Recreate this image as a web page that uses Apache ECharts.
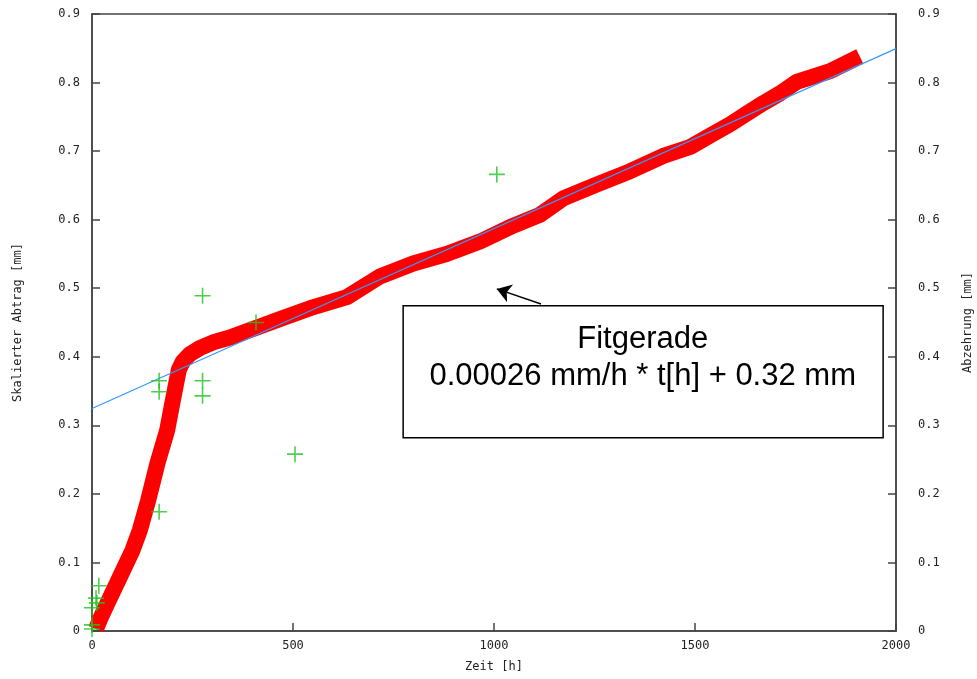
<!DOCTYPE html>
<html>
<head>
<meta charset="utf-8">
<script src="https://cdn.jsdelivr.net/npm/echarts@6/dist/echarts.min.js"></script>
<style>
  html, body { margin: 0; padding: 0; background: #fff; overflow: hidden; }
  #chart { width: 977px; height: 679px; }
</style>
</head>
<body>
<div id="chart"></div>
<script>
// Axis ticks
const xTicks = [0, 500, 1000, 1500, 2000];
const xTickLabels = ['0', '500', '1000', '1500', '2000'];
const yTickValues = [0, 0.1, 0.2, 0.3, 0.4, 0.5, 0.6, 0.7, 0.8, 0.9];
const yTickLabels = ['0', '0.1', '0.2', '0.3', '0.4', '0.5', '0.6', '0.7', '0.8', '0.9'];

// Scaled wear curve (Zeit [h] -> Skalierter Abtrag [mm])
const abtragX = [10, 22, 42, 72, 101, 119, 140, 163, 187, 203, 216, 226, 244, 269, 306, 343, 468, 551, 634, 716, 799, 882, 965, 1047, 1114, 1172, 1255, 1338, 1421, 1488, 1546, 1587, 1629, 1670, 1711, 1753, 1836, 1910];
const abtragY = [0.003, 0.020, 0.045, 0.082, 0.118, 0.147, 0.191, 0.245, 0.293, 0.342, 0.381, 0.393, 0.404, 0.413, 0.422, 0.428, 0.455, 0.4725, 0.487, 0.517, 0.536, 0.550, 0.568, 0.591, 0.607, 0.631, 0.651, 0.6705, 0.693, 0.706, 0.7255, 0.739, 0.7547, 0.770, 0.784, 0.801, 0.8166, 0.838];

// Measured Abzehrung points
const messX = [17, 10, 12, 0, 0, 0, 167, 167, 167, 275, 275, 275, 408, 505, 1007];
const messY = [0.066, 0.048, 0.041, 0.034, 0.009, 0.003, 0.365, 0.349, 0.174, 0.489, 0.365, 0.343, 0.450, 0.258, 0.666];

// Linear fit
const fitSlope = 0.0002625;
const fitIntercept = 0.3245;
const fitRange = [0, 2000];

// Annotation box and arrow (data coordinates)
const boxCorners = [[774, 0.4745], [1968, 0.2818]];
const boxTextAnchor = [1370, 0.399];
const arrowFrom = [1117, 0.477];
const arrowTo = [1007, 0.499];

const monoFont = 'DejaVu Sans Mono';
const axisColor = '#444';

const abtragData = abtragX.map((x, i) => [x, abtragY[i]]);
const messData = messX.map((x, i) => [x, messY[i]]);
const fitData = fitRange.map(t => [t, fitSlope * t + fitIntercept]);

function yLabel(v) {
  const i = yTickValues.findIndex(t => Math.abs(t - v) < 1e-9);
  return i >= 0 ? yTickLabels[i] : '';
}
function xLabel(v) {
  const i = xTicks.indexOf(v);
  return i >= 0 ? xTickLabels[i] : '';
}

const chart = echarts.init(document.getElementById('chart'), null, { renderer: 'canvas' });

const yAxisBase = {
  type: 'value',
  min: 0,
  max: 0.9,
  interval: 0.1,
  nameLocation: 'middle',
  nameRotate: 90,
  nameTextStyle: { fontFamily: monoFont, fontSize: 12, color: '#222' },
  axisLine: { show: true, lineStyle: { color: axisColor, width: 1.5 } },
  axisTick: { show: true, inside: true, length: 8, lineStyle: { color: axisColor, width: 1.5 } },
  splitLine: { show: false },
  axisLabel: { fontFamily: monoFont, fontSize: 12, color: '#222', formatter: yLabel }
};

chart.setOption({
  animation: false,
  backgroundColor: '#fff',
  grid: {
    left: 92, right: 81, top: 14, bottom: 48,
    outerBoundsMode: 'none',
    containLabel: false,
    show: true, borderColor: axisColor, borderWidth: 1.5, backgroundColor: 'transparent'
  },
  xAxis: {
    type: 'value',
    min: xTicks[0],
    max: xTicks[xTicks.length - 1],
    interval: xTicks[1] - xTicks[0],
    name: 'Zeit [h]',
    nameLocation: 'middle',
    nameGap: 30,
    nameTextStyle: { fontFamily: monoFont, fontSize: 12, color: '#222' },
    axisLine: { show: true, lineStyle: { color: axisColor, width: 1.5 } },
    axisTick: { show: true, inside: true, length: 8, lineStyle: { color: axisColor, width: 1.5 } },
    splitLine: { show: false },
    axisLabel: { fontFamily: monoFont, fontSize: 12, color: '#222', margin: 9, formatter: xLabel }
  },
  yAxis: [
    Object.assign({}, yAxisBase, {
      position: 'left',
      name: 'Skalierter Abtrag [mm]',
      nameGap: 68,
      axisLabel: Object.assign({}, yAxisBase.axisLabel, { margin: 12 })
    }),
    Object.assign({}, yAxisBase, {
      position: 'right',
      name: 'Abzehrung [mm]',
      nameGap: 66,
      axisLabel: Object.assign({}, yAxisBase.axisLabel, { margin: 22 })
    })
  ],
  series: [
    {
      name: 'Skalierter Abtrag',
      type: 'line',
      data: abtragData,
      showSymbol: false,
      clip: false,
      lineStyle: { color: '#ff0000', width: 16, cap: 'butt', join: 'round' },
      z: 2
    },
    {
      name: 'Fitgerade',
      type: 'line',
      data: fitData,
      showSymbol: false,
      lineStyle: { color: '#3399ff', width: 1.2 },
      z: 3
    },
    {
      name: 'Abzehrung',
      type: 'scatter',
      yAxisIndex: 1,
      data: messData,
      clip: false,
      symbol: 'path://M8,0L8,16M0,8L16,8',
      symbolSize: 16,
      itemStyle: { color: 'rgba(0,0,0,0)', borderColor: '#1fc41f', borderWidth: 1.6 },
      z: 4
    },
    {
      name: 'Pfeil',
      type: 'lines',
      coordinateSystem: 'cartesian2d',
      data: [{ coords: [arrowFrom, arrowTo] }],
      symbol: ['none', 'arrow'],
      symbolSize: 14,
      lineStyle: { color: '#000', width: 1.5, opacity: 1 },
      z: 5
    }
  ]
});

// Annotation box with the fit equation
const p1 = chart.convertToPixel({ gridIndex: 0 }, boxCorners[0]);
const p2 = chart.convertToPixel({ gridIndex: 0 }, boxCorners[1]);
const pt = chart.convertToPixel({ gridIndex: 0 }, boxTextAnchor);
const fitText = 'Fitgerade\n' + fitSlope.toPrecision(2) + ' mm/h * t[h] + ' + fitIntercept.toFixed(2) + ' mm';

chart.setOption({
  graphic: [
    {
      type: 'rect',
      shape: {
        x: Math.min(p1[0], p2[0]),
        y: Math.min(p1[1], p2[1]),
        width: Math.abs(p2[0] - p1[0]),
        height: Math.abs(p2[1] - p1[1])
      },
      style: { fill: '#fff', stroke: '#000', lineWidth: 1.5 },
      z: 10
    },
    {
      type: 'text',
      x: pt[0],
      y: pt[1],
      style: {
        text: fitText,
        fontFamily: 'Liberation Sans',
        fontSize: 31,
        lineHeight: 37,
        fill: '#000',
        align: 'center',
        verticalAlign: 'middle'
      },
      z: 11
    }
  ]
});
</script>
</body>
</html>
